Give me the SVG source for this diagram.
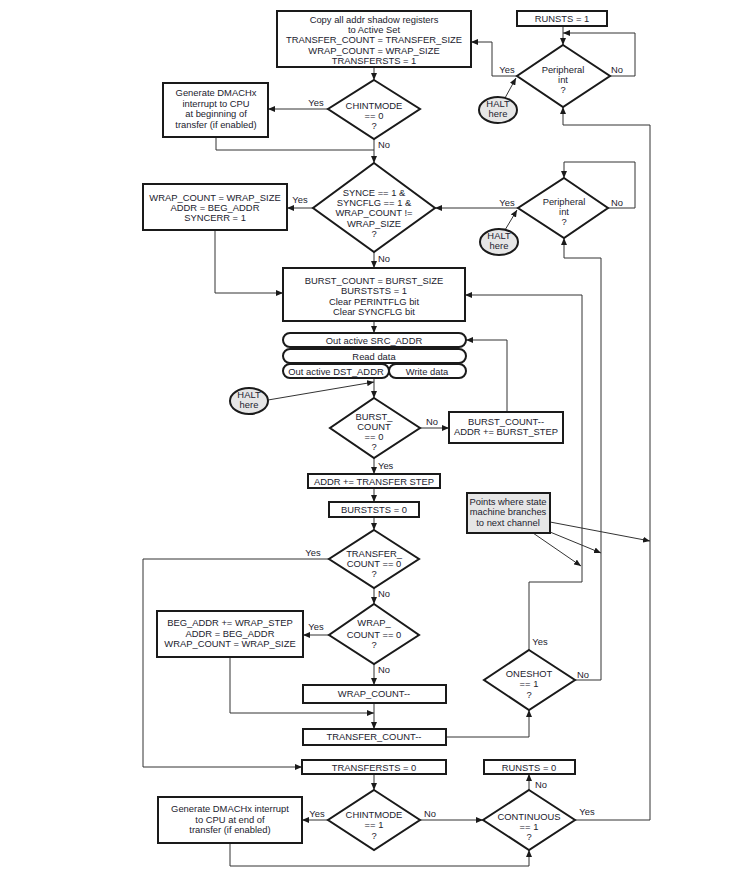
<svg xmlns="http://www.w3.org/2000/svg" width="752" height="877" viewBox="0 0 752 877">
<defs>
<style>
text{font-family:"Liberation Sans",Arial,sans-serif;font-size:9.4px;fill:#22222e;text-anchor:middle}
.st{text-anchor:start}
.box{fill:#fff;stroke:#1a1a1a;stroke-width:2}
.dia{fill:#fff;stroke:#1a1a1a;stroke-width:2}
.pill{fill:#fff;stroke:#1a1a1a;stroke-width:2}
.halt{fill:#e6e6e6;stroke:#1a1a1a;stroke-width:2}
.note{fill:#e6e6e6;stroke:#1a1a1a;stroke-width:2}
.ln{fill:none;stroke:#333;stroke-width:1;marker-end:url(#ah)}
.ln0{fill:none;stroke:#333;stroke-width:1}
</style>
<marker id="ah" markerUnits="userSpaceOnUse" markerWidth="7" markerHeight="6" refX="7" refY="3" orient="auto">
<path d="M0,0 L7,3 L0,6 z" fill="#1a1a1a"/>
</marker>
</defs>
<rect width="752" height="877" fill="#fff"/>

<g id="connectors">
<path class="ln" d="M563,26 V45"/>
<path class="ln" d="M610,76 H635 V33 H563"/>
<path class="ln" d="M517,76 H492 V42 H471"/>
<path class="ln" d="M505,98 L516,78"/>
<path class="ln" d="M575,820 H650 V125 H563 V107"/>
<path class="ln" d="M374,67 V80"/>
<path class="ln" d="M328,109 H268"/>
<path class="ln0" d="M216,137 V150 H374"/>
<path class="ln" d="M374,139 V163"/>
<path class="ln" d="M313,208 H287"/>
<path class="ln" d="M518,208 H435"/>
<path class="ln" d="M505,230 L517,210"/>
<path class="ln" d="M608,208 H635 V162 H564 V178"/>
<path class="ln" d="M575,680 H601 V258 H564 V238"/>
<path class="ln" d="M374,252 V268"/>
<path class="ln" d="M215,230 V293 H283"/>
<path class="ln" d="M374,321 V333"/>
<path class="ln" d="M529,650 V582 H582 V295 H465"/>
<path class="ln" d="M374,378 V398"/>
<path class="ln" d="M268,400 L374,382"/>
<path class="ln" d="M420,428 H449"/>
<path class="ln" d="M507,412 V340 H466"/>
<path class="ln" d="M374,458 V474"/>
<path class="ln" d="M374,488 V502"/>
<path class="ln" d="M374,517 V530"/>
<path class="ln" d="M329,559 H143 V767 H302"/>
<path class="ln" d="M374,588 V604"/>
<path class="ln" d="M329,635 H303"/>
<path class="ln" d="M374,664 V685"/>
<path class="ln" d="M230,657 V713 H374"/>
<path class="ln" d="M374,703 V729"/>
<path class="ln" d="M446,737 H529 V710"/>
<path class="ln" d="M374,774 V790"/>
<path class="ln" d="M328,820 H302"/>
<path class="ln" d="M420,820 H483"/>
<path class="ln" d="M529,790 V774"/>
<path class="ln" d="M230,843 V866 H529 V850"/>
<path class="ln" d="M550,522 L650,541"/>
<path class="ln" d="M550,532 L601,553"/>
<path class="ln" d="M533,533 L581,566"/>
</g>

<g id="labels">
<text x="507" y="73">Yes</text>
<text x="617" y="73">No</text>
<text x="316" y="106">Yes</text>
<text class="st" x="378" y="148">No</text>
<text x="300" y="203">Yes</text>
<text class="st" x="378" y="262">No</text>
<text x="507" y="206">Yes</text>
<text x="617" y="206">No</text>
<text x="432" y="425">No</text>
<text class="st" x="378" y="469">Yes</text>
<text x="313" y="556">Yes</text>
<text class="st" x="378" y="597">No</text>
<text x="316" y="630">Yes</text>
<text class="st" x="378" y="673">No</text>
<text x="540" y="645">Yes</text>
<text x="583" y="678">No</text>
<text x="317" y="817">Yes</text>
<text x="430" y="817">No</text>
<text class="st" x="535" y="788">No</text>
<text x="587" y="815">Yes</text>
</g>

<g id="copy">
<rect class="box" x="277" y="11" width="194" height="56"/>
<text x="374" y="23">Copy all addr shadow registers</text>
<text x="374" y="33">to Active Set</text>
<text x="374" y="43">TRANSFER_COUNT = TRANSFER_SIZE</text>
<text x="374" y="54">WRAP_COUNT = WRAP_SIZE</text>
<text x="374" y="64">TRANSFERSTS = 1</text>
</g>

<g id="runsts1">
<rect class="box" x="517" y="11" width="90" height="15"/>
<text x="562" y="22">RUNSTS = 1</text>
</g>

<g id="peri1">
<polygon class="dia" points="563,45 610,76 563,107 517,76"/>
<text x="563" y="73">Peripheral</text>
<text x="563" y="83">int</text>
<text x="563" y="93">?</text>
</g>

<g id="halt1">
<ellipse class="halt" cx="498" cy="110" rx="19" ry="13"/>
<text x="498" y="107">HALT</text>
<text x="498" y="117">here</text>
</g>

<g id="chint0">
<polygon class="dia" points="374,80 420,109 374,139 328,109"/>
<text x="374" y="109">CHINTMODE</text>
<text x="374" y="119">== 0</text>
<text x="374" y="129">?</text>
</g>

<g id="genint1">
<rect class="box" x="163" y="83" width="105" height="54"/>
<text x="216" y="96">Generate DMACHx</text>
<text x="216" y="107">interrupt to CPU</text>
<text x="216" y="117">at beginning of</text>
<text x="216" y="128">transfer (if enabled)</text>
</g>

<g id="synce">
<polygon class="dia" points="374,163 435,208 374,252 313,208"/>
<text x="374" y="196">SYNCE == 1 &amp;</text>
<text x="374" y="206">SYNCFLG == 1 &amp;</text>
<text x="374" y="216">WRAP_COUNT !=</text>
<text x="374" y="227">WRAP_SIZE</text>
<text x="374" y="237">?</text>
</g>

<g id="syncerr">
<rect class="box" x="143" y="184" width="144" height="46"/>
<text x="215" y="201">WRAP_COUNT = WRAP_SIZE</text>
<text x="215" y="211">ADDR = BEG_ADDR</text>
<text x="215" y="221">SYNCERR = 1</text>
</g>

<g id="peri2">
<polygon class="dia" points="564,178 608,208 564,238 518,208"/>
<text x="564" y="205">Peripheral</text>
<text x="564" y="215">int</text>
<text x="564" y="225">?</text>
</g>

<g id="halt2">
<ellipse class="halt" cx="499" cy="242" rx="19" ry="13"/>
<text x="499" y="239">HALT</text>
<text x="499" y="249">here</text>
</g>

<g id="burstinit">
<rect class="box" x="283" y="268" width="182" height="53"/>
<text x="374" y="284">BURST_COUNT = BURST_SIZE</text>
<text x="374" y="294">BURSTSTS = 1</text>
<text x="374" y="305">Clear PERINTFLG bit</text>
<text x="374" y="315">Clear SYNCFLG bit</text>
</g>

<g id="pills">
<rect class="pill" x="283" y="333" width="183" height="14" rx="7"/>
<text x="374" y="343.5">Out active SRC_ADDR</text>
<rect class="pill" x="283" y="349" width="183" height="14" rx="7"/>
<text x="374" y="359.5">Read data</text>
<rect class="pill" x="283" y="364" width="106" height="14" rx="7"/>
<text x="336" y="374.5">Out active DST_ADDR</text>
<rect class="pill" x="389" y="364" width="77" height="14" rx="7"/>
<text x="427" y="374.5">Write data</text>
</g>

<g id="halt3">
<ellipse class="halt" cx="249" cy="401" rx="19" ry="13"/>
<text x="249" y="398">HALT</text>
<text x="249" y="408">here</text>
</g>

<g id="burstcount">
<polygon class="dia" points="374,398 420,428 374,458 330,428"/>
<text x="374" y="420">BURST_</text>
<text x="374" y="430">COUNT</text>
<text x="374" y="440">== 0</text>
<text x="374" y="450">?</text>
</g>

<g id="burstdec">
<rect class="box" x="449" y="412" width="114" height="31"/>
<text x="506" y="425">BURST_COUNT--</text>
<text x="506" y="435">ADDR += BURST_STEP</text>
</g>

<g id="addrstep">
<rect class="box" x="308" y="474" width="132" height="14"/>
<text x="374" y="484.5">ADDR += TRANSFER STEP</text>
</g>

<g id="burststs0">
<rect class="box" x="329" y="502" width="90" height="15"/>
<text x="374" y="512.5">BURSTSTS = 0</text>
</g>

<g id="points">
<rect class="note" x="467" y="493" width="83" height="40"/>
<text x="508" y="505">Points where state</text>
<text x="508" y="515">machine branches</text>
<text x="508" y="526">to next channel</text>
</g>

<g id="transfercount">
<polygon class="dia" points="374,530 419,559 374,588 329,559"/>
<text x="374" y="557">TRANSFER_</text>
<text x="374" y="567">COUNT == 0</text>
<text x="374" y="577">?</text>
</g>

<g id="wrapcount">
<polygon class="dia" points="374,604 419,635 374,664 329,635"/>
<text x="374" y="626">WRAP_</text>
<text x="374" y="638">COUNT == 0</text>
<text x="374" y="648">?</text>
</g>

<g id="wrapreset">
<rect class="box" x="157" y="611" width="146" height="46"/>
<text x="230" y="626">BEG_ADDR += WRAP_STEP</text>
<text x="230" y="637">ADDR = BEG_ADDR</text>
<text x="230" y="647">WRAP_COUNT = WRAP_SIZE</text>
</g>

<g id="wrapdec">
<rect class="box" x="303" y="685" width="143" height="18"/>
<text x="374" y="697">WRAP_COUNT--</text>
</g>

<g id="transferdec">
<rect class="box" x="303" y="729" width="143" height="16"/>
<text x="374" y="740">TRANSFER_COUNT--</text>
</g>

<g id="oneshot">
<polygon class="dia" points="529,650 575,680 529,710 484,680"/>
<text x="529" y="676.5">ONESHOT</text>
<text x="529" y="687">== 1</text>
<text x="529" y="697.5">?</text>
</g>

<g id="transfersts0">
<rect class="box" x="302" y="760" width="144" height="14"/>
<text x="374" y="770.5">TRANSFERSTS = 0</text>
</g>

<g id="runsts0">
<rect class="box" x="484" y="760" width="91" height="14"/>
<text x="529" y="770.5">RUNSTS = 0</text>
</g>

<g id="chint1">
<polygon class="dia" points="374,790 420,820 374,850 328,820"/>
<text x="374" y="818">CHINTMODE</text>
<text x="374" y="828">== 1</text>
<text x="374" y="839">?</text>
</g>

<g id="genint2">
<rect class="box" x="158" y="797" width="144" height="46"/>
<text x="230" y="812">Generate DMACHx interrupt</text>
<text x="230" y="823">to CPU at end of</text>
<text x="230" y="833">transfer (if enabled)</text>
</g>

<g id="continuous">
<polygon class="dia" points="529,790 575,820 529,850 483,820"/>
<text x="529" y="820">CONTINUOUS</text>
<text x="529" y="830">== 1</text>
<text x="529" y="840">?</text>
</g>
</svg>
